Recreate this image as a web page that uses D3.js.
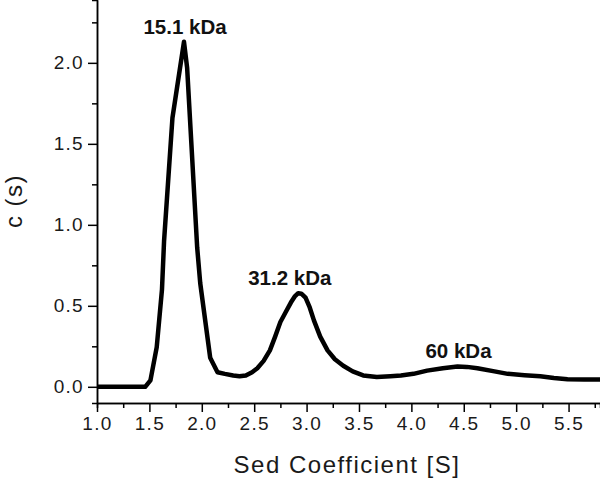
<!DOCTYPE html>
<html>
<head>
<meta charset="utf-8">
<script src="https://cdn.jsdelivr.net/npm/d3@7"></script>
<style>
	body { margin: 0; background: #fff; }
	text { font-family: "Liberation Sans", Arial, sans-serif; }
</style>
</head>
<body>
<script>
// c(s) distribution
let sedS = [1.0, 1.2, 1.46, 1.51, 1.57, 1.62, 1.64, 1.72, 1.83, 1.86, 1.956, 1.985, 2.08, 2.15, 2.22, 2.30, 2.36, 2.42,
	2.48, 2.53, 2.59, 2.65, 2.70, 2.75, 2.80, 2.85, 2.89, 2.92, 2.95, 2.99, 3.03, 3.07, 3.13, 3.2, 3.27, 3.35,
	3.44, 3.54, 3.67, 3.8, 3.9, 4.02, 4.15, 4.3, 4.44, 4.53, 4.63, 4.78, 4.92, 5.08, 5.23, 5.36, 5.49, 5.65, 5.8]
let cS = [0, 0, 0, 0.04, 0.245, 0.6, 0.9, 1.66, 2.13, 1.97, 0.86, 0.64, 0.18, 0.09, 0.08, 0.07, 0.065, 0.07,
	0.09, 0.115, 0.16, 0.225, 0.31, 0.40, 0.46, 0.52, 0.56, 0.578, 0.575, 0.55, 0.49, 0.41, 0.31, 0.225, 0.17, 0.13,
	0.095, 0.07, 0.06, 0.065, 0.07, 0.08, 0.10, 0.115, 0.125, 0.123, 0.115, 0.097, 0.08, 0.072, 0.065, 0.055, 0.047, 0.045, 0.045]

let xMajor = [1.0, 1.5, 2.0, 2.5, 3.0, 3.5, 4.0, 4.5, 5.0, 5.5]
let xMinor = [1.25, 1.75, 2.25, 2.75, 3.25, 3.75, 4.25, 4.75, 5.25, 5.75]
let yMajor = [0.0, 0.5, 1.0, 1.5, 2.0]
let yMinor = [0.25, 0.75, 1.25, 1.75, 2.25]

let peakLabels = ['15.1 kDa', '31.2 kDa', '60 kDa']
let peakS = [1.84, 2.84, 4.45]
let peakC = [2.13, 0.58, 0.13]

let W = 600, H = 481
let x0 = 97, x1 = 600, y0 = 0, y1 = 403

let svg = d3.select('body').append('svg').attr('width', W).attr('height', H)

let x = d3.scaleLinear().domain([1.0, 5.8]).range([x0, x1])
let y = d3.scaleLinear().domain([-0.1, 2.388]).range([y1, y0])
let fmt = d3.format('.1f')

// minor ticks first, then the major axis on top
svg.append('g').attr('transform', `translate(0,${y1})`)
	.call(d3.axisBottom(x).tickValues(xMinor).tickSize(5).tickFormat(''))
svg.append('g').attr('transform', `translate(${x0},0)`)
	.call(d3.axisLeft(y).tickValues(yMinor).tickSize(5).tickFormat(''))

let gx = svg.append('g').attr('transform', `translate(0,${y1})`)
	.call(d3.axisBottom(x).tickValues(xMajor).tickSize(9).tickSizeOuter(0).tickPadding(5).tickFormat(fmt))
let gy = svg.append('g').attr('transform', `translate(${x0},0)`)
	.call(d3.axisLeft(y).tickValues(yMajor).tickSize(9).tickSizeOuter(0).tickPadding(4).tickFormat(fmt))

svg.selectAll('.domain, .tick line').attr('stroke', '#000').attr('stroke-width', 1.5)
svg.selectAll('.tick text')
	.attr('font-family', '"Liberation Sans", Arial, sans-serif')
	.attr('font-size', 19).attr('letter-spacing', 1.3).attr('fill', '#1a1a1a')

// axis titles
svg.append('text').attr('x', 347).attr('y', 473)
	.attr('text-anchor', 'middle').attr('font-size', 24).attr('letter-spacing', 1.5).attr('fill', '#1a1a1a')
	.text('Sed Coefficient [S]')
svg.append('text').attr('transform', 'translate(22,201) rotate(-90)')
	.attr('text-anchor', 'middle').attr('font-size', 24).attr('letter-spacing', 1.5).attr('fill', '#1a1a1a')
	.text('c (s)')

// curve
let line = d3.line().x(d => x(d[0])).y(d => y(d[1]))
svg.append('path')
	.attr('d', line(d3.zip(sedS, cS)))
	.attr('fill', 'none').attr('stroke', '#000').attr('stroke-width', 4.5)
	.attr('stroke-linejoin', 'round')

// peak annotations
svg.selectAll('.peak').data(peakLabels).enter().append('text')
	.attr('class', 'peak')
	.attr('x', (d, i) => x(peakS[i]))
	.attr('y', (d, i) => y(peakC[i]) - 8)
	.attr('text-anchor', 'middle').attr('font-size', 20.5).attr('font-weight', 'bold').attr('fill', '#111')
	.text(d => d)
</script>
</body>
</html>
